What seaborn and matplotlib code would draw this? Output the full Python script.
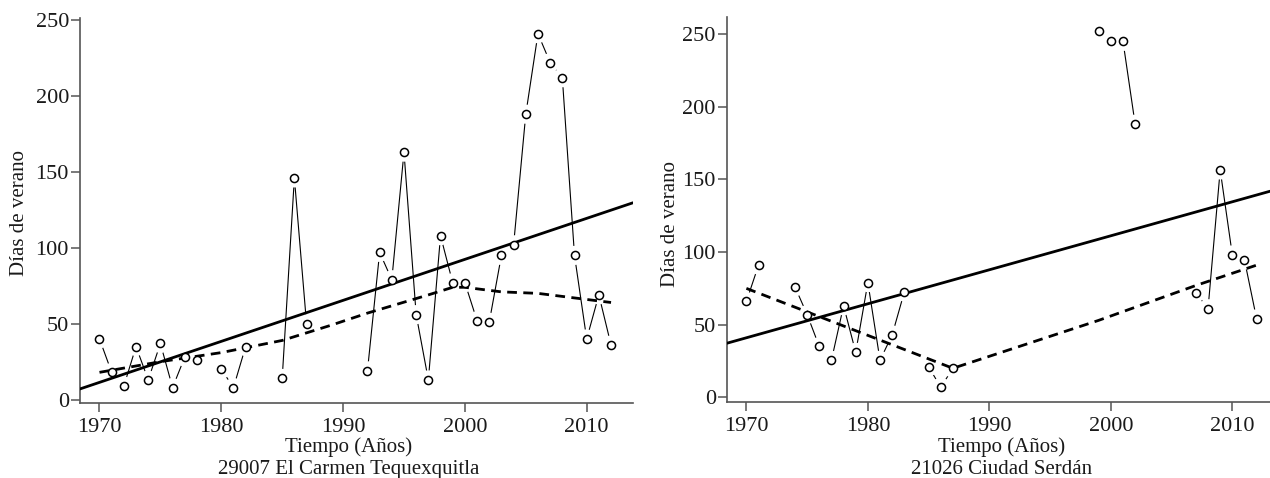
import numpy as np
import matplotlib
matplotlib.use("Agg")
import matplotlib.pyplot as plt
import seaborn as sns

sns.set_style("ticks")
plt.rcParams["font.family"] = ["Liberation Serif", "DejaVu Serif"]

nan = np.nan
years = list(range(1970, 2013))

# Días de verano por año (NaN = año sin dato)
carmen_dias = [40, 18, 9, 35, 13, 37, 8, 28, 26, nan,
               20, 8, 35, nan, nan, 14, 146, 50, nan, nan,
               nan, nan, 19, 97, 79, 163, 56, 13, 108, 77,
               77, 52, 51, 95, 102, 188, 241, 222, 212, 95,
               40, 69, 36]
serdan_dias = [66, 91, nan, nan, 76, 57, 35, 25.5, 63, 31,
               79, 25.5, 43, 72.5, nan, 21, 7, 20, nan, nan,
               nan, nan, nan, nan, nan, nan, nan, nan, nan, 252,
               245, 245, 188, nan, nan, nan, nan, 72, 61, 156.5,
               98, 94.5, 54]

# tendencia lineal: (valor en 1970, pendiente por año)
carmen_trend = (11.4, 2.70)
serdan_trend = (41.0, 2.34)

# curva suavizada
carmen_loess_years = [1970, 1975, 1980, 1985, 1989, 1992, 1997, 1999, 2000, 2003, 2006, 2009, 2012]
carmen_loess = [18, 25, 31, 39, 49, 57, 69, 74, 74, 71, 70, 67, 64]
serdan_loess_years = [1970, 1987, 1999, 2007, 2012]
serdan_loess = [75, 20, 53, 77, 91]

AXIS_GREY = "#555555"
TEXT = "#1a1a1a"


def draw_panel(ax, dias, trend, loess_years, loess_vals, station, ylim):
    ax.plot(years, dias, color="black", lw=0.8, zorder=1)
    # halo blanco para separar la línea de los marcadores
    sns.scatterplot(x=years, y=dias, ax=ax, s=190, color="white",
                    edgecolor="none", zorder=2, legend=False)
    ax.axline((1970, trend[0]), slope=trend[1], color="black", lw=2, zorder=3)
    sns.lineplot(x=loess_years, y=loess_vals, ax=ax, color="black", lw=2,
                 linestyle=(0, (3.5, 2.3)), zorder=3)
    sns.scatterplot(x=years, y=dias, ax=ax, s=34, color="white",
                    edgecolor="black", linewidth=1.1, zorder=4, legend=False)

    ax.set_xlim(1968.4, 2013.8)
    ax.set_ylim(*ylim)
    ax.set_xticks([1970, 1980, 1990, 2000, 2010])
    ax.set_yticks([0, 50, 100, 150, 200, 250])
    sns.despine(ax=ax)
    for side in ["left", "bottom"]:
        ax.spines[side].set_color(AXIS_GREY)
        ax.spines[side].set_linewidth(1.2)
    ax.tick_params(length=6.5, width=1.1, color=AXIS_GREY, labelsize=16,
                   labelcolor=TEXT, pad=1.5)
    ax.tick_params(axis="x", pad=4.4)
    ax.set_xlabel("Tiempo (Años)\n" + station, fontsize=15, labelpad=0.5,
                  linespacing=1.2, color=TEXT)
    ax.set_ylabel("Días de verano", fontsize=15, labelpad=2, color=TEXT)


fig = plt.figure(figsize=(12.7, 4.78), dpi=100)
ax1 = fig.add_axes([0.063, 0.1575, 0.4354, 0.8038])
ax2 = fig.add_axes([0.5724, 0.1584, 0.4276, 0.8067])

draw_panel(ax1, carmen_dias, carmen_trend, carmen_loess_years, carmen_loess,
           "29007 El Carmen Tequexquitla", (-2, 251))
draw_panel(ax2, serdan_dias, serdan_trend, serdan_loess_years, serdan_loess,
           "21026 Ciudad Serdán", (-3.4, 262))
ax2.set_xlim(1968.4, 2013.1)

# posiciones de los rótulos como en el original
ax1.xaxis.label.set_x(0.485)
ax2.xaxis.label.set_x(0.505)
ax1.yaxis.labelpad = 5
ax1.yaxis.label.set_y(0.495)
ax2.yaxis.label.set_y(0.462)

fig.savefig("out.png", dpi=100)
